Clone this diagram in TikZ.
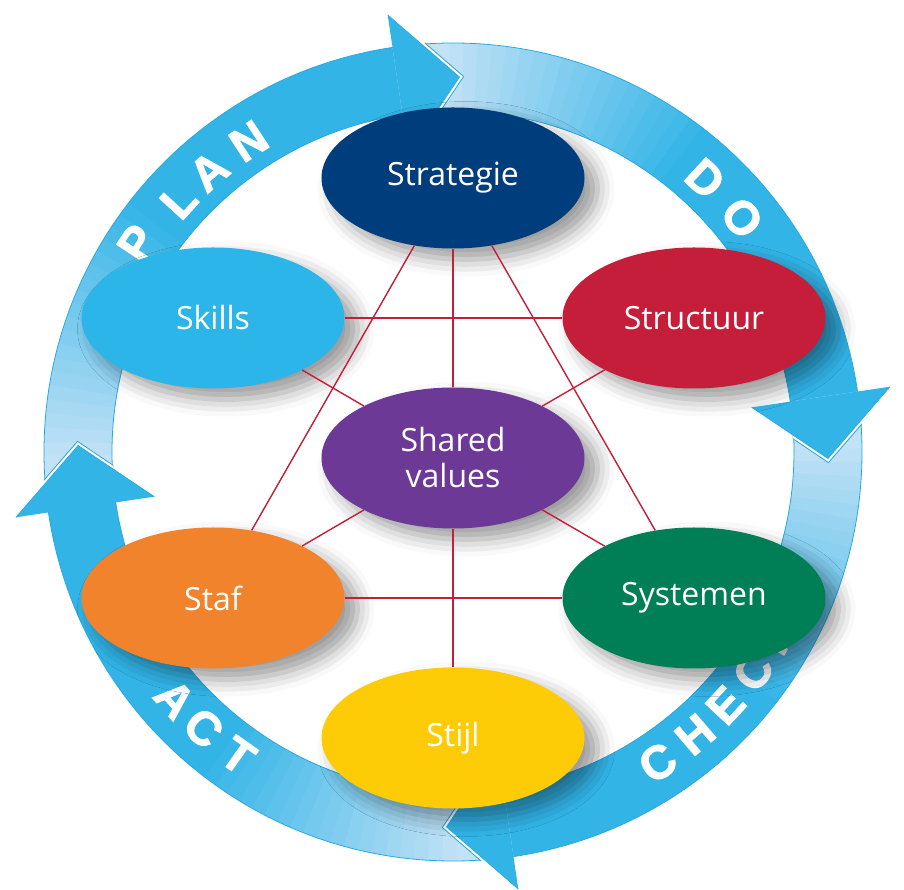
\documentclass[tikz,border=0pt]{standalone}
\usepackage{fontspec}
\setmainfont{Open Sans}
\newfontfamily\ringfont[FakeBold=2]{Liberation Sans Bold}
\usetikzlibrary{shapes, shadows, shadows.blur, calc}
\definecolor{ringdark}{RGB}{50,180,231}
\definecolor{ringlight}{RGB}{196,226,246}
\definecolor{ringline}{RGB}{41,168,224}
\definecolor{strategieblue}{RGB}{0,61,124}
\definecolor{skillsblue}{RGB}{43,181,232}
\definecolor{structuurred}{RGB}{196,30,58}
\definecolor{sharedpurple}{RGB}{109,57,150}
\definecolor{staforange}{RGB}{241,131,44}
\definecolor{systemengreen}{RGB}{0,127,86}
\definecolor{stijlyellow}{RGB}{253,204,7}
\tikzset{
    element/.style={ellipse, minimum width=263pt, minimum height=141pt, inner sep=0pt,
        text=white, align=center, font=\fontsize{32}{36}\selectfont,
        blur shadow={shadow xshift=13pt, shadow yshift=-11pt, shadow blur radius=17pt, shadow opacity=40}},
    link/.style={draw=structuurred, line width=1.4pt},
    ringletter/.style={text=white, inner sep=0pt, font=\ringfont\fontsize{47}{47}\selectfont}
}
\begin{document}
\begin{tikzpicture}[x=1pt, y=1pt]
    \def \Rout {409}
    \def \Rin {341}
    \def \Rmid {375}
    \def \Rtext {372}
    \useasboundingbox (-453,-438) rectangle (451,452);
    % ring, one arrow per quarter, light at the tail
    \foreach \t in {89,-1,-91,179}{
        \foreach \i in {0,...,44}{
            \pgfmathsetmacro\a{\t+99.5-2*\i}
            \pgfmathsetmacro\b{\a-2.3}
            \pgfmathsetmacro\m{max(0,min(100,(\i-3)*5))}
            \fill[ringdark!\m!ringlight] (\a:\Rout) arc[start angle=\a, end angle=\b, radius=\Rout]
                -- (\b:\Rin) arc[start angle=\b, end angle=\a, radius=\Rin] -- cycle;
        }
    }
    \draw[ringline, line width=0.8pt] (0,0) circle[radius=\Rout] (0,0) circle[radius=\Rin];
    \foreach \ch/\a/\r [count=\k] in {P/146.5/379, L/137.5/\Rtext, A/131/\Rtext, N/123.3/\Rtext, D/47.3/\Rtext, O/39/\Rtext}
        \node[ringletter, rotate=\a-90] (top\k) at (\a:\r) {\ch};
    \foreach \ch/\a [count=\k] in {C/-56.6, H/-49.4, E/-42.9, C/-36.2, K/-29.5, A/221.6, C/227.9, T/234.7}
        \node[ringletter, rotate=\a+90] (bottom\k) at (\a:\Rtext) {\ch};
    % arrow heads
    \foreach \t in {89,-1,-91,179}{
        \pgfmathsetmacro\b{\t+9.5}
        \begin{scope}[even odd rule]
        \clip (0,0) circle[radius=\Rout+1] (0,0) circle[radius=\Rin-1];
        \draw[ringline, line width=7pt, line join=miter] (\b:442) -- (\t:\Rmid) -- (\b:302);
        \draw[white, line width=5pt, line join=miter] (\b:442) -- (\t:\Rmid) -- (\b:302);
        \end{scope}
        \fill[ringdark] (\b:442) -- (\t:\Rmid) -- (\b:302) -- cycle;
        \draw[ringline, line width=0.6pt, line join=miter] (\b:442) -- (\t:\Rmid) -- (\b:302);
    }
    % the seven elements
    \node[element, fill=strategieblue] (strategie) at (0,274) {Strategie};
    \node[element, fill=skillsblue] (skills) at (-240,134) {Skills};
    \node[element, fill=structuurred] (structuur) at (241,134) {Structuur};
    \node[element, fill=sharedpurple] (shared) at (0,-6) {Shared\\values};
    \node[element, fill=staforange] (staf) at (-240,-146) {Staf};
    \node[element, fill=systemengreen] (systemen) at (241,-146) {Systemen};
    \node[element, fill=stijlyellow] (stijl) at (0,-286) {Stijl};
    \draw[link] (strategie) -- (shared);
    \draw[link] (shared) -- (stijl);
    \draw[link] (skills) -- (structuur);
    \draw[link] (staf) -- (systemen);
    \draw[link] (strategie) -- (staf);
    \draw[link] (strategie) -- (systemen);
    \draw[link] (shared) -- (skills);
    \draw[link] (shared) -- (structuur);
    \draw[link] (shared) -- (staf);
    \draw[link] (shared) -- (systemen);
\end{tikzpicture}
\end{document}
